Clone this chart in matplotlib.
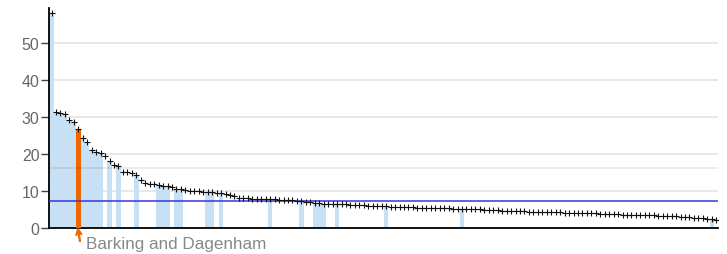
import matplotlib
matplotlib.use("Agg")
import matplotlib.pyplot as plt
import numpy as np

plt.rcParams['font.family'] = ['Liberation Sans', 'DejaVu Sans']

# Values per area (sorted descending)
values = [
    58.3, 31.5, 31.1, 31.0, 29.4, 28.6, 26.8, 24.3, 23.2, 21.2,
    20.5, 20.3, 19.5, 18.2, 17.2, 16.9, 15.1, 15.1, 14.9, 14.4,
    13.0, 12.3, 12.0, 11.9, 11.7, 11.5, 11.4, 11.1, 10.7, 10.6,
    10.3, 10.1, 10.0, 10.0, 9.9, 9.9, 9.8, 9.6, 9.5, 9.2,
    9.1, 8.7, 8.3, 8.2, 8.1, 8.0, 8.0, 7.9, 7.9, 7.9,
    7.8, 7.7, 7.7, 7.7, 7.6, 7.5, 7.4, 7.2, 7.1, 6.9,
    6.8, 6.7, 6.7, 6.6, 6.6, 6.5, 6.5, 6.4, 6.3, 6.2,
    6.2, 6.1, 6.0, 6.0, 5.9, 5.9, 5.8, 5.8, 5.8, 5.7,
    5.7, 5.7, 5.6, 5.6, 5.6, 5.5, 5.5, 5.5, 5.4, 5.4,
    5.3, 5.3, 5.2, 5.2, 5.1, 5.1, 5.1, 5.0, 5.0, 4.9,
    4.9, 4.8, 4.8, 4.7, 4.7, 4.6, 4.6, 4.5, 4.5, 4.5,
    4.4, 4.4, 4.3, 4.3, 4.3, 4.2, 4.2, 4.1, 4.1, 4.1,
    4.0, 4.0, 4.0, 3.9, 3.9, 3.8, 3.8, 3.8, 3.7, 3.7,
    3.7, 3.6, 3.6, 3.6, 3.5, 3.5, 3.4, 3.4, 3.3, 3.2,
    3.2, 3.1, 3.1, 3.0, 2.9, 2.8, 2.7, 2.6, 2.5, 2.3,
]

# Positions (in sorted order) of the London boroughs, shown as bars
london_idx = [0, 1, 2, 3, 4, 5, 6, 7, 8, 9, 10, 11, 13, 15, 19, 24, 25, 26,
              28, 29, 35, 36, 38, 49, 56, 59, 60, 61, 64, 75, 92, 148]
highlight_idx = 6
highlight_label = "Barking and Dagenham"
average_value = 7.5
reference_value = 16.4
yticks = [0, 10, 20, 30, 40, 50]

light_blue = '#c8e0f4'
orange = '#ef6700'
line_blue = '#3535dd'

n = len(values)
x = np.arange(n)
vals = np.array(values)

fig = plt.figure(figsize=(7.27, 2.55), dpi=100)
ax = fig.add_axes([0.0678, 0.1008, 0.9205, 0.862])

# bars
lon = np.array([i for i in london_idx if i != highlight_idx])
ax.bar(lon, vals[lon], width=1.0, color=light_blue, linewidth=0, zorder=2)
ax.bar([highlight_idx], [vals[highlight_idx]], width=1.0, color=orange,
       linewidth=0, zorder=3)

# reference lines
ax.axhline(reference_value, color='black', alpha=0.09, lw=1.2, zorder=4)
ax.axhline(average_value, color=line_blue, lw=1.1, zorder=5)

# markers
ax.plot(x, vals, linestyle='none', marker='+', markersize=4.3, mew=0.8,
        color='#111111', zorder=6)

ax.set_xlim(-0.5, n - 0.5)
ax.set_ylim(0, 59.4)
ax.set_yticks(yticks)
ax.yaxis.grid(True, color='#e2e2e2', lw=1.1, zorder=0)
ax.set_axisbelow(True)
ax.set_xticks([])

for s in ['top', 'right']:
    ax.spines[s].set_visible(False)
ax.spines['left'].set_linewidth(1.3)
ax.spines['bottom'].set_linewidth(1.3)
ax.tick_params(axis='y', direction='out', length=6, width=1.0, color='#444444',
               labelsize=11.5, labelcolor='#666666', pad=1)

# annotation
ax.annotate('', xy=(highlight_idx - 0.15, 0.3), xycoords='data',
            xytext=(1.7, -10), textcoords='offset points',
            arrowprops=dict(arrowstyle='->', color=orange, lw=1.6,
                            shrinkA=0, shrinkB=0, mutation_scale=9),
            annotation_clip=False)
ax.annotate(highlight_label, xy=(highlight_idx - 0.15, 0.3), xycoords='data',
            xytext=(6.3, -15.0), textcoords='offset points',
            ha='left', va='baseline', fontsize=12.3, color='#888888',
            annotation_clip=False)

fig.savefig('out.png', dpi=100)
